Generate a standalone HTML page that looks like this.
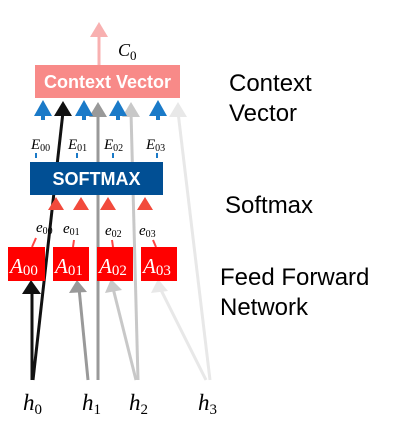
<!DOCTYPE html>
<html><head><meta charset="utf-8"><style>
html,body{margin:0;padding:0;background:#fff}
svg{display:block}
.r{font-family:"Liberation Sans",sans-serif;font-size:24px;fill:#000}
.m{font-family:"Liberation Serif",serif;font-style:italic}
</style></head><body>
<svg width="411" height="431" viewBox="0 0 411 431" xmlns="http://www.w3.org/2000/svg">
<line x1="99" y1="66" x2="99" y2="32" stroke="#f8b0b0" stroke-width="3"/>
<path d="M90,37 L99,22 L108,37 Z" fill="#f8b0b0"/>
<text x="118" y="56" class="m" font-size="18">C<tspan font-size="13" font-style="normal" dy="4">0</tspan></text>
<g stroke-width="3" fill="none">
<line x1="210" y1="380" x2="178" y2="112" stroke="#e8e8e8"/>
<line x1="206" y1="380" x2="161" y2="290" stroke="#e8e8e8"/>
<line x1="138" y1="380" x2="131" y2="112" stroke="#c8c8c8"/>
<line x1="136" y1="380" x2="113" y2="288" stroke="#c8c8c8"/>
<line x1="98" y1="380" x2="98" y2="112" stroke="#999"/>
<line x1="88" y1="380" x2="79" y2="288" stroke="#999"/>
<line x1="33" y1="380" x2="63" y2="112" stroke="#111"/>
<line x1="32" y1="380" x2="32" y2="288" stroke="#111"/>
</g>
<g>
<path d="M169,117 L178,102 L187,117 Z" fill="#e8e8e8"/>
<path d="M122,117 L131,102 L140,117 Z" fill="#c8c8c8"/>
<path d="M89,117 L98,102 L107,117 Z" fill="#999"/>
<path d="M54,116 L63,101 L72,116 Z" fill="#111"/>
<path d="M151,293 L158,279 L168,291 Z" fill="#e8e8e8"/>
<path d="M105,293 L111,279 L122,290 Z" fill="#c8c8c8"/>
<path d="M69,293 L77,280 L87,292 Z" fill="#999"/>
<path d="M22,294 L31,280 L41,294 Z" fill="#111"/>
</g>
<rect x="35" y="65" width="145" height="33" fill="#f88a88"/>
<text x="107.5" y="88" text-anchor="middle" font-family="Liberation Sans,sans-serif" font-weight="bold" font-size="18" fill="#fff">Context Vector</text>
<g fill="#1a7ac8">
<path d="M34,116 L43,100 L52,116 Z"/><rect x="41" y="114" width="4" height="6"/>
<path d="M75,116 L84,100 L93,116 Z"/><rect x="82" y="114" width="4" height="6"/>
<path d="M109,116 L118,100 L127,116 Z"/><rect x="116" y="114" width="4" height="6"/>
<path d="M149,116 L158,100 L167,116 Z"/><rect x="156" y="114" width="4" height="6"/>
<rect x="35" y="153" width="2" height="5"/><rect x="76" y="153" width="2" height="5"/><rect x="112" y="153" width="2" height="5"/><rect x="156" y="153" width="2" height="5"/>
</g>
<g class="m" font-size="15" fill="#000">
<text x="31" y="149">E<tspan font-size="10" font-style="normal" dy="2">00</tspan></text>
<text x="68" y="149">E<tspan font-size="10" font-style="normal" dy="2">01</tspan></text>
<text x="104" y="149">E<tspan font-size="10" font-style="normal" dy="2">02</tspan></text>
<text x="146" y="149">E<tspan font-size="10" font-style="normal" dy="2">03</tspan></text>
</g>
<rect x="30" y="162" width="133" height="33" fill="#014f94"/>
<text x="96.5" y="185" text-anchor="middle" font-family="Liberation Sans,sans-serif" font-weight="bold" font-size="18" fill="#fff">SOFTMAX</text>
<g fill="#f24a3c">
<path d="M48,210 L56,197 L64,210 Z"/>
<path d="M73,210 L81,197 L89,210 Z"/>
<path d="M100,210 L108,197 L116,210 Z"/>
<path d="M137,210 L145,197 L153,210 Z"/>
</g>
<g class="m" font-size="15" fill="#000">
<text x="36" y="232">e<tspan font-size="10" font-style="normal" dy="2">00</tspan></text>
<text x="63" y="233">e<tspan font-size="10" font-style="normal" dy="2">01</tspan></text>
<text x="105" y="235">e<tspan font-size="10" font-style="normal" dy="2">02</tspan></text>
<text x="139" y="235">e<tspan font-size="10" font-style="normal" dy="2">03</tspan></text>
</g>
<g stroke="#f44" stroke-width="2">
<line x1="36" y1="238" x2="32" y2="247"/><line x1="74" y1="240" x2="73" y2="247"/>
<line x1="112" y1="240" x2="113" y2="247"/><line x1="153" y1="240" x2="156" y2="247"/>
</g>
<g fill="#f00">
<rect x="8" y="247" width="37" height="34"/><rect x="53" y="247" width="36" height="34"/>
<rect x="97" y="247" width="36" height="34"/><rect x="141" y="247" width="36" height="34"/>
</g>
<g class="m" font-size="21" fill="#fff">
<text x="10" y="273">A<tspan font-size="15" font-style="normal" dy="2">00</tspan></text>
<text x="55" y="273">A<tspan font-size="15" font-style="normal" dy="2">01</tspan></text>
<text x="99" y="273">A<tspan font-size="15" font-style="normal" dy="2">02</tspan></text>
<text x="143" y="273">A<tspan font-size="15" font-style="normal" dy="2">03</tspan></text>
</g>
<g class="m" font-size="23" fill="#000">
<text x="23" y="410">h<tspan font-size="15" font-style="normal" dy="4">0</tspan></text>
<text x="82" y="410">h<tspan font-size="15" font-style="normal" dy="4">1</tspan></text>
<text x="129" y="410">h<tspan font-size="15" font-style="normal" dy="4">2</tspan></text>
<text x="198" y="410">h<tspan font-size="15" font-style="normal" dy="4">3</tspan></text>
</g>
<text class="r" x="229" y="91">Context</text>
<text class="r" x="229" y="121">Vector</text>
<text class="r" x="225" y="213">Softmax</text>
<text class="r" x="220" y="285">Feed Forward</text>
<text class="r" x="220" y="315">Network</text>
</svg>
</body></html>
